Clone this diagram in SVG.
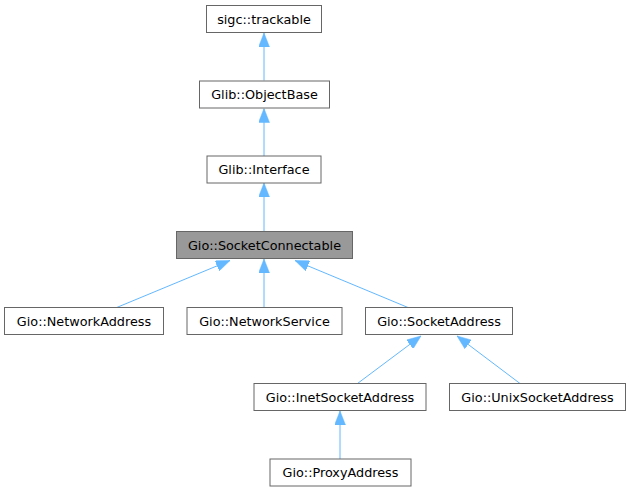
<svg xmlns="http://www.w3.org/2000/svg" width="631" height="492" viewBox="0 0 631 492">
<style>
.node rect{fill:#ffffff;stroke:#666666;stroke-width:1}
.node.cur rect{fill:#999999}
.node text{font-family:"DejaVu Sans","Liberation Sans",sans-serif;font-size:12.8px;fill:#000000;text-anchor:middle}
.edge path{fill:none;stroke:#63b8ff;stroke-width:1;marker-end:url(#arr)}
</style>
<defs>
<marker id="arr" viewBox="0 0 14 11" refX="14" refY="5.5" markerWidth="14" markerHeight="11" markerUnits="userSpaceOnUse" orient="auto">
<path d="M0,0 L14,5.5 L0,11 z" fill="#63b8ff" stroke="#63b8ff" stroke-width="0.5"/>
</marker>
</defs>
<rect width="631" height="492" fill="#ffffff"/>
<g id="edges" class="edge">
<path d="M264,80.5 L264,33"/>
<path d="M264,156 L264,108.5"/>
<path d="M264,231.5 L264,183"/>
<path d="M116.7,307.5 L230,260.5"/>
<path d="M264,307.5 L264,259"/>
<path d="M408,307.5 L295,260.5"/>
<path d="M357.5,383.5 L421,336"/>
<path d="M520,383.5 L457,336"/>
<path d="M340,459 L340,411"/>
</g>
<g id="n_trackable" class="node"><rect x="206.5" y="5.5" width="115" height="27"/><text x="264" y="23.5">sigc::trackable</text></g>
<g id="n_objectbase" class="node"><rect x="199.5" y="81" width="130" height="27"/><text x="264.5" y="99">Glib::ObjectBase</text></g>
<g id="n_interface" class="node"><rect x="207" y="156" width="114" height="27"/><text x="264" y="174">Glib::Interface</text></g>
<g id="n_socketconnectable" class="node cur"><rect x="176.5" y="231.5" width="176" height="27"/><text x="264.5" y="249.5">Gio::SocketConnectable</text></g>
<g id="n_networkaddress" class="node"><rect x="4.5" y="307.5" width="159" height="27"/><text x="84" y="325.5">Gio::NetworkAddress</text></g>
<g id="n_networkservice" class="node"><rect x="187" y="307.5" width="155" height="27"/><text x="264.5" y="325.5">Gio::NetworkService</text></g>
<g id="n_socketaddress" class="node"><rect x="365.5" y="307.5" width="147" height="27"/><text x="439" y="325.5">Gio::SocketAddress</text></g>
<g id="n_inetsocketaddress" class="node"><rect x="254" y="383.5" width="172" height="27"/><text x="340" y="401.5">Gio::InetSocketAddress</text></g>
<g id="n_unixsocketaddress" class="node"><rect x="449.5" y="383.5" width="176" height="27"/><text x="537.5" y="401.5">Gio::UnixSocketAddress</text></g>
<g id="n_proxyaddress" class="node"><rect x="270" y="459" width="141" height="27"/><text x="340.5" y="477">Gio::ProxyAddress</text></g>
</svg>
